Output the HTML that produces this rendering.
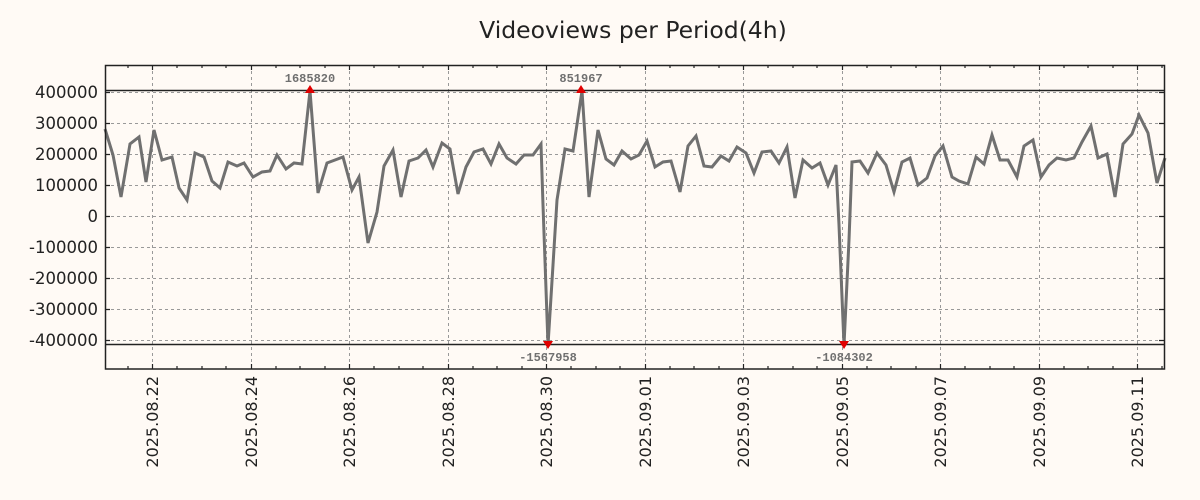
<!DOCTYPE html>
<html><head><meta charset="utf-8"><style>
html,body{margin:0;padding:0;background:#fffaf5;}
svg{display:block;font-family:"DejaVu Sans","Liberation Sans",sans-serif;}
</style></head><body>
<svg width="1200" height="500" viewBox="0 0 1200 500" xmlns="http://www.w3.org/2000/svg">
<rect width="1200" height="500" fill="#fffaf5"/>
<text x="633" y="38" font-size="23.5" text-anchor="middle" fill="#222">Videoviews per Period(4h)</text>
<g stroke="#999" stroke-width="1" stroke-dasharray="3,3">
<line x1="105" x2="1164" y1="92.5" y2="92.5"/><line x1="105" x2="1164" y1="123.5" y2="123.5"/><line x1="105" x2="1164" y1="154.5" y2="154.5"/><line x1="105" x2="1164" y1="185.5" y2="185.5"/><line x1="105" x2="1164" y1="216.5" y2="216.5"/><line x1="105" x2="1164" y1="247.5" y2="247.5"/><line x1="105" x2="1164" y1="278.5" y2="278.5"/><line x1="105" x2="1164" y1="309.5" y2="309.5"/><line x1="105" x2="1164" y1="340.5" y2="340.5"/>
<line y1="65" y2="369" x1="152.5" x2="152.5"/><line y1="65" y2="369" x1="251.5" x2="251.5"/><line y1="65" y2="369" x1="349.5" x2="349.5"/><line y1="65" y2="369" x1="448.5" x2="448.5"/><line y1="65" y2="369" x1="546.5" x2="546.5"/><line y1="65" y2="369" x1="645.5" x2="645.5"/><line y1="65" y2="369" x1="743.5" x2="743.5"/><line y1="65" y2="369" x1="842.5" x2="842.5"/><line y1="65" y2="369" x1="940.5" x2="940.5"/><line y1="65" y2="369" x1="1039.5" x2="1039.5"/><line y1="65" y2="369" x1="1137.5" x2="1137.5"/>
</g>
<g stroke="#222" stroke-width="1.5">
<line x1="105" x2="1164" y1="90.5" y2="90.5"/>
<line x1="105" x2="1164" y1="344.5" y2="344.5"/>
</g>
<polyline fill="none" stroke="#707070" stroke-width="3" stroke-linejoin="miter" points="105,129 113,155 121,197 130,144 139,137 146,182 154,130 162,160 172,157 179,188 187,200 195,153 204,157 212,181 220,188 228,162 237,166 244,163 253,177 262,172 270,171 277,155 286,169 294,163 302,164 310,91 318,193 327,163 335,160 343,157 352,190 359,177 368,243 377,212 384,166 393,150 401,197 409,161 418,158 426,150 433,167 442,143 450,149 458,194 466,167 474,152 483,149 491,164 499,144 507,158 516,164 524,155 533,155 541,144 543,205 548,345 553,265 557,200 565,149 573,151 582,91 589,197 598,130 606,159 614,165 622,151 631,159 639,155 647,141 655,167 663,162 671,161 680,192 688,146 696,136 704,166 712,167 721,156 729,161 737,147 746,153 754,173 762,152 771,151 779,163 787,147 795,198 803,160 812,168 820,163 828,185 836,165 839,225 844,345 849,240 852,162 860,161 868,173 877,153 886,165 894,192 902,162 910,158 918,185 927,178 935,156 943,146 952,177 959,181 968,184 976,157 984,164 992,135 1000,160 1008,160 1017,177 1024,146 1033,140 1041,177 1049,165 1057,158 1066,160 1074,158 1082,142 1091,126 1098,158 1107,154 1115,197 1123,144 1132,134 1139,115 1148,133 1157,183 1165,158"/>
<rect x="105.5" y="65.5" width="1059" height="303.5" fill="none" stroke="#222" stroke-width="1.5"/>
<g stroke="#222" stroke-width="1.2">
<path d="M105 92.5h5M105 123.5h5M105 154.5h5M105 185.5h5M105 216.5h5M105 247.5h5M105 278.5h5M105 309.5h5M105 340.5h5"/>
<path d="M1164 92.5h-5M1164 123.5h-5M1164 154.5h-5M1164 185.5h-5M1164 216.5h-5M1164 247.5h-5M1164 278.5h-5M1164 309.5h-5M1164 340.5h-5"/>
<path d="M128 369v-3M152.5 369v-5M177 369v-3M202 369v-3M226 369v-3M251.5 369v-5M276 369v-3M300 369v-3M325 369v-3M349.5 369v-5M374 369v-3M399 369v-3M423 369v-3M448.5 369v-5M473 369v-3M497 369v-3M522 369v-3M546.5 369v-5M571 369v-3M596 369v-3M620 369v-3M645.5 369v-5M670 369v-3M694 369v-3M719 369v-3M743.5 369v-5M768 369v-3M793 369v-3M817 369v-3M842.5 369v-5M867 369v-3M891 369v-3M916 369v-3M940.5 369v-5M965 369v-3M990 369v-3M1014 369v-3M1039.5 369v-5M1064 369v-3M1088 369v-3M1113 369v-3M1137.5 369v-5M1162 369v-3"/>
<path d="M128 65v3M152.5 65v5M177 65v3M202 65v3M226 65v3M251.5 65v5M276 65v3M300 65v3M325 65v3M349.5 65v5M374 65v3M399 65v3M423 65v3M448.5 65v5M473 65v3M497 65v3M522 65v3M546.5 65v5M571 65v3M596 65v3M620 65v3M645.5 65v5M670 65v3M694 65v3M719 65v3M743.5 65v5M768 65v3M793 65v3M817 65v3M842.5 65v5M867 65v3M891 65v3M916 65v3M940.5 65v5M965 65v3M990 65v3M1014 65v3M1039.5 65v5M1064 65v3M1088 65v3M1113 65v3M1137.5 65v5M1162 65v3"/>
</g>
<g font-size="16.5" fill="#222" text-anchor="end">
<text x="98" y="98">400000</text><text x="98" y="129">300000</text><text x="98" y="160">200000</text><text x="98" y="191">100000</text><text x="98" y="222">0</text><text x="98" y="253">-100000</text><text x="98" y="284">-200000</text><text x="98" y="315">-300000</text><text x="98" y="346">-400000</text>
</g>
<g font-size="16" fill="#222" text-anchor="end">
<text transform="translate(158,376) rotate(-90)">2025.08.22</text>
<text transform="translate(257,376) rotate(-90)">2025.08.24</text>
<text transform="translate(355,376) rotate(-90)">2025.08.26</text>
<text transform="translate(454,376) rotate(-90)">2025.08.28</text>
<text transform="translate(552,376) rotate(-90)">2025.08.30</text>
<text transform="translate(651,376) rotate(-90)">2025.09.01</text>
<text transform="translate(749,376) rotate(-90)">2025.09.03</text>
<text transform="translate(848,376) rotate(-90)">2025.09.05</text>
<text transform="translate(946,376) rotate(-90)">2025.09.07</text>
<text transform="translate(1045,376) rotate(-90)">2025.09.09</text>
<text transform="translate(1143,376) rotate(-90)">2025.09.11</text>
</g>
<g fill="#e00000">
<path d="M305 93l5-8 5 8z"/><path d="M576 93l5-8 5 8z"/>
<path d="M543 341l5 8 5-8z"/><path d="M839 341l5 8 5-8z"/>
</g>
<g font-family="'Liberation Mono','DejaVu Sans Mono',monospace" font-weight="bold" font-size="12" fill="#707070" text-anchor="middle">
<text x="310" y="82">1685820</text><text x="581" y="82">851967</text>
<text x="548" y="361">-1567958</text><text x="844" y="361">-1084302</text>
</g>
</svg>
</body></html>
